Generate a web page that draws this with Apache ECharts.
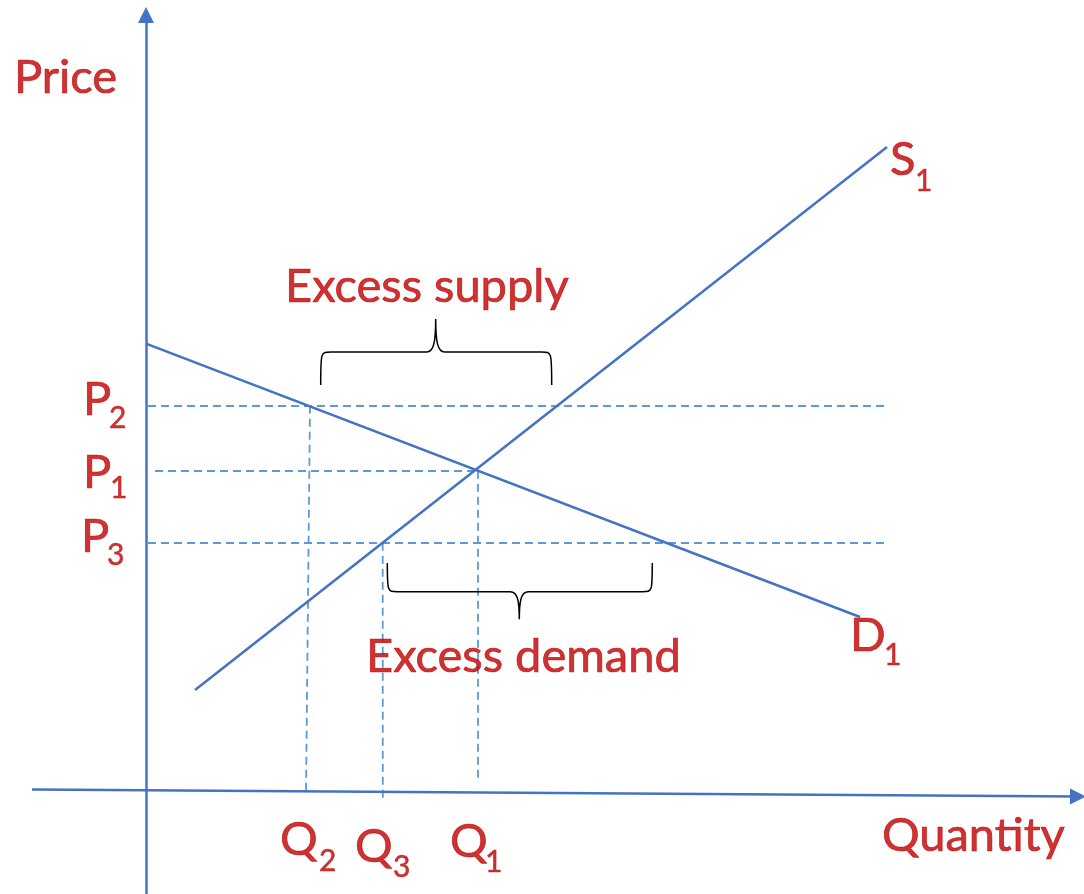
<!DOCTYPE html>
<html>
<head>
<meta charset="utf-8">
<script src="https://cdn.jsdelivr.net/npm/echarts@6/dist/echarts.min.js"></script>
<style>
  html, body { margin: 0; padding: 0; background: #fff; }
  #chart { width: 1084px; height: 894px; }
</style>
</head>
<body>
<div id="chart"></div>
<script>
// diagram units: x to the right, y downwards
var axisLines = [
    [[146, 894], [146, 15]],        // price axis
    [[32, 789.5], [1078, 796.5]]    // quantity axis
];
var demandLine = [[146, 343.7], [860, 617]];
var supplyLine = [[195, 690], [887, 147]];

var guideLines = [
    [[148, 405.7], [887, 405.7]],   // P2
    [[155, 470.7], [478, 470.7]],   // P1
    [[148, 542.7], [884, 542.7]],   // P3
    [[310, 405.7], [306, 793]],     // Q2
    [[382.7, 542.7], [382.8, 801]], // Q3
    [[478, 470.7], [478, 781]]      // Q1
];

// [left end, right end, tip x, end y, bar y, tip y]
var braces = [
    [320.7, 551.7, 435.7, 385, 352, 319],
    [387.3, 652.3, 519.3, 563, 591.7, 619.3]
];

var mainText = ['Price', 'Excess supply', 'Excess demand', 'Quantity', 'S', 'D', 'P', 'P', 'P', 'Q', 'Q', 'Q'];
var mainX = [14, 285, 366, 882, 890, 850, 83, 83, 81, 280, 355, 450];
var mainY = [77.5, 286.7, 656.7, 836, 160, 636, 399.5, 473, 537, 840, 847, 841.5];

var subText = ['1', '1', '2', '1', '3', '2', '3', '1'];
var subX = [915, 884, 109, 110, 107, 319, 393, 485];
var subY = [181, 655, 418, 488.5, 555, 861.5, 867, 862];

var blue = '#4472c4';
var lightBlue = '#5b9bd5';
var red = '#c00000';

function toPoints(xs, ys, texts) {
    return texts.map(function (t, i) {
        return {name: t, value: [xs[i], ys[i]]};
    });
}

function braceItem(params, api) {
    var x1 = api.value(0), x2 = api.value(1), tx = api.value(2);
    var e = api.value(3), b = api.value(4), t = api.value(5);
    var L = api.coord([x1, e]), R = api.coord([x2, e]);
    var BL = api.coord([x1, b]), BR = api.coord([x2, b]);
    var T = api.coord([tx, t]), BT = api.coord([tx, b]);
    var by = BL[1], ty = T[1], mid = by + (ty - by) * 0.3;
    var d = 'M' + L[0] + ' ' + L[1] +
        ' C' + BL[0] + ' ' + by + ' ' + BL[0] + ' ' + by + ' ' + (BL[0] + 10) + ' ' + by +
        ' L' + (BT[0] - 9) + ' ' + by +
        ' C' + (BT[0] - 2) + ' ' + by + ' ' + BT[0] + ' ' + mid + ' ' + T[0] + ' ' + ty +
        ' M' + T[0] + ' ' + ty +
        ' C' + BT[0] + ' ' + mid + ' ' + (BT[0] + 2) + ' ' + by + ' ' + (BT[0] + 9) + ' ' + by +
        ' L' + (BR[0] - 10) + ' ' + by +
        ' C' + BR[0] + ' ' + by + ' ' + BR[0] + ' ' + by + ' ' + R[0] + ' ' + R[1];
    return {
        type: 'path',
        shape: {pathData: d},
        style: {stroke: '#000', fill: 'none', lineWidth: 1.5}
    };
}

var chart = echarts.init(document.getElementById('chart'));

var textLabel = {
    show: true,
    position: 'right',
    distance: 0,
    formatter: '{b}',
    color: red,
    fontFamily: 'Lato',
    fontSize: 47,
    textBorderColor: red,
    textBorderWidth: 0.7
};

var option = {
    animation: false,
    backgroundColor: '#fff',
    grid: {left: 0, right: 0, top: 0, bottom: 0},
    xAxis: {type: 'value', min: 0, max: 1084, show: false},
    yAxis: {type: 'value', min: 0, max: 894, inverse: true, show: false},
    series: [
        {
            name: 'guides',
            type: 'lines',
            coordinateSystem: 'cartesian2d',
            silent: true,
            data: guideLines.map(function (c) { return {coords: c}; }),
            lineStyle: {color: lightBlue, width: 1.8, type: [8, 5], opacity: 1}
        },
        {
            name: 'axes',
            type: 'lines',
            coordinateSystem: 'cartesian2d',
            silent: true,
            symbol: ['none', 'triangle'],
            symbolSize: [0, 16],
            data: axisLines.map(function (c) { return {coords: c}; }),
            lineStyle: {color: blue, width: 2.5, opacity: 1}
        },
        {
            name: 'D1',
            type: 'line',
            data: demandLine,
            symbol: 'none',
            lineStyle: {color: blue, width: 2.5}
        },
        {
            name: 'S1',
            type: 'line',
            data: supplyLine,
            symbol: 'none',
            lineStyle: {color: blue, width: 2.5}
        },
        {
            name: 'braces',
            type: 'custom',
            renderItem: braceItem,
            data: braces,
            encode: {x: [0, 1, 2], y: [3, 4, 5]},
            silent: true
        },
        {
            name: 'text',
            type: 'scatter',
            symbolSize: 0,
            data: toPoints(mainX, mainY, mainText),
            label: textLabel
        },
        {
            name: 'subscripts',
            type: 'scatter',
            symbolSize: 0,
            data: toPoints(subX, subY, subText),
            label: Object.assign({}, textLabel, {fontSize: 30, textBorderWidth: 0.5})
        }
    ]
};

chart.setOption(option);
</script>
</body>
</html>
